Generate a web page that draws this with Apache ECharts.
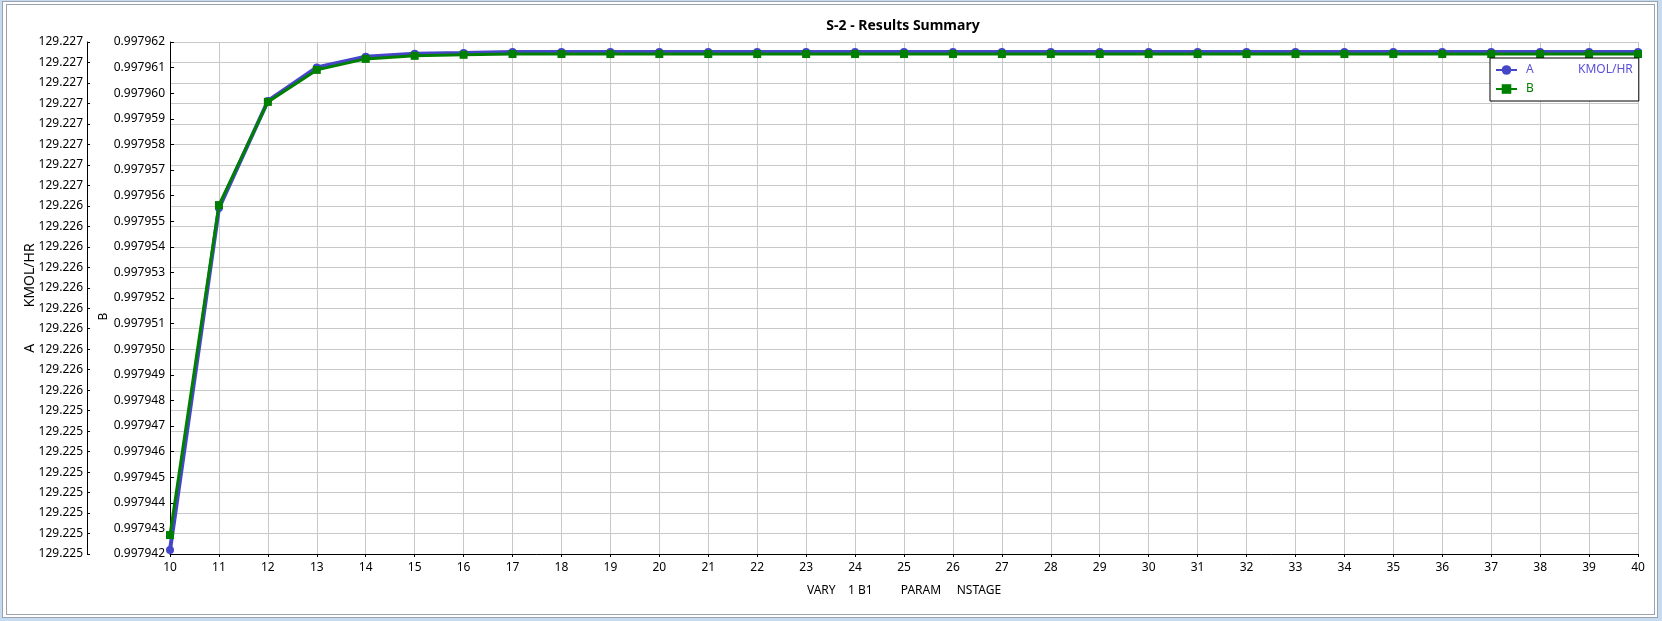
<!DOCTYPE html>
<html>
<head>
<meta charset="utf-8">
<script src="https://cdn.jsdelivr.net/npm/echarts@6/dist/echarts.min.js"></script>
<style>
html,body{margin:0;padding:0;width:1662px;height:621px;background:#c6daf0;overflow:hidden;}
#outer{position:absolute;left:2px;top:1px;width:1656px;height:617px;box-sizing:border-box;border:1px solid #9aa3ad;background:#fff;}
#inner{position:absolute;left:6px;top:4px;width:1649px;height:611px;box-sizing:border-box;border:1px solid #9aa3ad;background:#fff;}
#chart{position:absolute;left:0;top:0;width:1662px;height:621px;}
</style>
</head>
<body>
<div id="outer"></div>
<div id="inner"></div>
<div id="chart"></div>
<script>
// x categories (NSTAGE)
const stages = [10,11,12,13,14,15,16,17,18,19,20,21,22,23,24,25,26,27,28,29,30,31,32,33,34,35,36,37,38,39,40];
// Series A (KMOL/HR)
const seriesA = [129.22472,129.226389,129.226912,129.227076,129.227128,129.227143,129.227146,129.227151,129.227151,129.227151,129.227151,129.227151,129.227151,129.227151,129.227151,129.227151,129.227151,129.227151,129.227151,129.227151,129.227151,129.227151,129.227151,129.227151,129.227151,129.227151,129.227151,129.227151,129.227151,129.227151,129.227151];
// Series B
const seriesB = [0.99794274,0.99795563,0.99795966,0.99796091,0.99796134,0.99796146,0.99796150,0.99796153,0.99796153,0.99796153,0.99796153,0.99796153,0.99796153,0.99796153,0.99796153,0.99796153,0.99796153,0.99796153,0.99796153,0.99796153,0.99796153,0.99796153,0.99796153,0.99796153,0.99796153,0.99796153,0.99796153,0.99796153,0.99796153,0.99796153,0.99796153];
// Axis ranges
const axisA = {min:129.2247, max:129.2272, interval:0.0001, decimals:3};
const axisB = {min:0.997942, max:0.997962, interval:0.000001, decimals:6};
const axisX = {min:10, max:40, interval:1};

const FONT = 'Noto Sans';
const chart = echarts.init(document.getElementById('chart'), null, {renderer:'canvas'});
const dataA = stages.map((s,i)=>[s, seriesA[i]]);
const dataB = stages.map((s,i)=>[s, seriesB[i]]);

chart.setOption({
  animation:false,
  backgroundColor:'transparent',
  textStyle:{fontFamily:FONT},
  title:{
    text:'S-2 - Results Summary',
    left:903, top:19, textAlign:'center', padding:0,
    textStyle:{fontFamily:FONT, fontSize:14, fontWeight:'bold', color:'#000'}
  },
  grid:{left:170, top:42, right:24, bottom:67, containLabel:false},
  legend:{
    orient:'vertical',
    left:1490, top:58,
    padding:[6,6,6,5],
    itemGap:7,
    itemWidth:21, itemHeight:12,
    backgroundColor:'#fff',
    borderColor:'#000', borderWidth:1, borderRadius:0,
    data:[
      {name:'A', textStyle:{color:'#5a50d8'}},
      {name:'B', textStyle:{color:'#008000'}}
    ],
    formatter:function(n){ return n==='A' ? '{a|A}{u|KMOL/HR}' : '{b|B}'; },
    textStyle:{
      fontFamily:FONT, fontSize:12,
      rich:{
        a:{width:52, color:'#5a50d8', fontFamily:FONT, fontSize:12, padding:[0,0,0,4]},
        u:{color:'#5a50d8', fontFamily:FONT, fontSize:12},
        b:{color:'#008000', fontFamily:FONT, fontSize:12, padding:[0,0,0,4]}
      }
    }
  },
  xAxis:{
    type:'value',
    min:axisX.min, max:axisX.max, interval:axisX.interval,
    name:'VARY    1 B1         PARAM     NSTAGE',
    nameLocation:'middle', nameGap:31, nameMoveOverlap:false,
    nameTextStyle:{fontFamily:FONT, fontSize:12, color:'#000'},
    axisLine:{lineStyle:{color:'#000', width:1}},
    axisTick:{inside:false, length:3, lineStyle:{color:'#000'}},
    axisLabel:{margin:8, fontFamily:FONT, fontSize:12, color:'#000'},
    splitLine:{show:true, lineStyle:{color:'#c8c8c8', width:1}}
  },
  yAxis:[
    {
      type:'value', position:'left', offset:83,
      min:axisA.min, max:axisA.max, interval:axisA.interval,
      name:'A          KMOL/HR',
      nameLocation:'middle', nameGap:50, nameMoveOverlap:false,
      nameTextStyle:{fontFamily:FONT, fontSize:14, color:'#000'},
      axisLine:{show:true, onZero:false, lineStyle:{color:'#000', width:1}},
      axisTick:{show:true, inside:true, length:3, lineStyle:{color:'#000'}},
      axisLabel:{margin:4, fontFamily:FONT, fontSize:12, color:'#000',
        formatter:function(v){ return (Math.round(v*1e4)/1e4 + 1e-9).toFixed(axisA.decimals); }},
      splitLine:{show:true, lineStyle:{color:'#c8c8c8', width:1}}
    },
    {
      type:'value', position:'left', offset:0,
      min:axisB.min, max:axisB.max, interval:axisB.interval,
      name:'B            ',
      nameLocation:'middle', nameGap:60, nameMoveOverlap:false,
      nameTextStyle:{fontFamily:FONT, fontSize:12, color:'#000'},
      axisLine:{show:true, onZero:false, lineStyle:{color:'#000', width:1}},
      axisTick:{show:true, inside:true, length:4, lineStyle:{color:'#000'}},
      axisLabel:{margin:5, fontFamily:FONT, fontSize:12, color:'#000',
        formatter:function(v){ return v.toFixed(axisB.decimals); }},
      splitLine:{show:false}
    }
  ],
  series:[
    {
      name:'A', type:'line', yAxisIndex:0, data:dataA,
      symbol:'circle', symbolSize:8, showAllSymbol:true,
      itemStyle:{color:'#4646c8'},
      lineStyle:{color:'#4646c8', width:4},
      z:2
    },
    {
      name:'B', type:'line', yAxisIndex:1, data:dataB,
      symbol:'rect', symbolSize:8, showAllSymbol:true,
      itemStyle:{color:'#008000'},
      lineStyle:{color:'#008000', width:3},
      z:3
    }
  ]
});
</script>
</body>
</html>
